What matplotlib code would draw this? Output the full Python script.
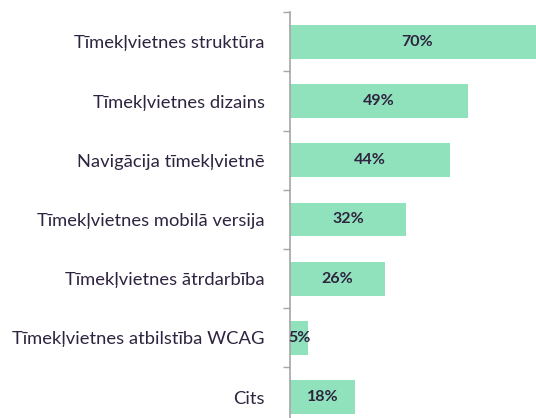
import matplotlib.pyplot as plt
import numpy as np

CATEGORIES = [
    "Tīmekļvietnes struktūra",
    "Tīmekļvietnes dizains",
    "Navigācija tīmekļvietnē",
    "Tīmekļvietnes mobilā versija",
    "Tīmekļvietnes ātrdarbība",
    "Tīmekļvietnes atbilstība WCAG",
    "Cits",
]
VALUES = [70, 49, 44, 32, 26, 5, 18]

BAR_COLOR = "#8fe2bb"
TEXT_COLOR = "#2f2440"
AXIS_COLOR = "#a6a6a6"

plt.rcParams["font.family"] = ["Lato", "DejaVu Sans"]

fig = plt.figure(figsize=(5.36, 4.18), dpi=100)
ax = fig.add_axes([0.541, -0.0208, 0.459, 0.9914])

y = np.arange(len(CATEGORIES))
ax.barh(y, VALUES, height=0.57, color=BAR_COLOR)

for yi, v in zip(y, VALUES):
    ax.text(v / 2, yi, f"{v}%", ha="center", va="center",
            fontsize=11.5, fontweight="bold", color=TEXT_COLOR)

ax.set_xlim(0, 67.6)
ax.set_ylim(len(CATEGORIES) - 0.5, -0.5)

ax.set_yticks(y)
ax.set_yticklabels(CATEGORIES, fontsize=13.2, color=TEXT_COLOR)
ax.tick_params(axis="y", which="major", length=0, pad=18)
ax.set_yticks(np.arange(-0.5, len(CATEGORIES)), minor=True)
ax.tick_params(axis="y", which="minor", length=5, width=1, color=AXIS_COLOR)

ax.set_xticks([])
for side in ["top", "right", "bottom"]:
    ax.spines[side].set_visible(False)
ax.spines["left"].set_color(AXIS_COLOR)
ax.spines["left"].set_linewidth(1.2)

fig.savefig("out.png", dpi=100)
